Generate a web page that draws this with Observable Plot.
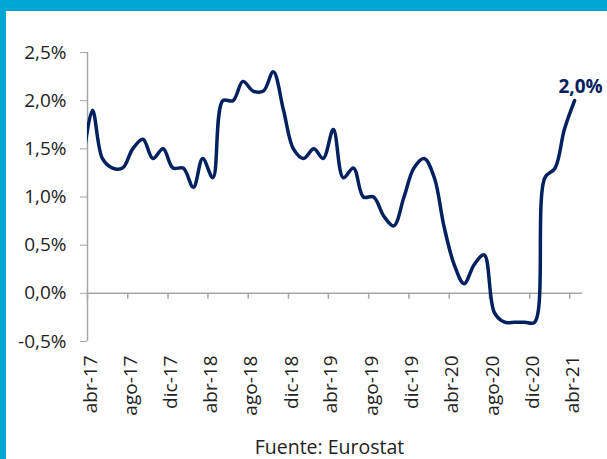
<!DOCTYPE html>
<html><head><meta charset="utf-8">
<script src="https://cdn.jsdelivr.net/npm/d3@7"></script>
<script src="https://cdn.jsdelivr.net/npm/@observablehq/plot@0.6"></script>
<style>
html,body{margin:0;padding:0;background:#fff;}
#wrap{position:relative;width:601px;height:448px;border-top:11px solid #00A7D5;border-left:6px solid #00A7D5;font-family:"Open Sans",sans-serif;}
#caption{font-size:19.5px;color:#222;text-align:center;padding-left:46px;line-height:22px;}
</style></head><body><div id="wrap"><div id="chart"></div><div id="caption"></div></div>
<script>
// Monthly values, Mar-2017 (first, partly hidden at the left edge) .. Apr-2021
const firstMonth = [2017, 3];
const values = [
  1.3,
  1.9, 1.4, 1.3, 1.3, 1.5, 1.6, 1.4, 1.5, 1.3,
  1.3, 1.1, 1.4, 1.2, 2.0, 2.0, 2.2, 2.1, 2.1, 2.3, 1.9, 1.5,
  1.4, 1.5, 1.4, 1.7, 1.2, 1.3, 1.0, 1.0, 0.8, 0.7, 1.0, 1.3,
  1.4, 1.2, 0.7, 0.3, 0.1, 0.3, 0.4, -0.2, -0.3, -0.3, -0.3, -0.3,
  1.2, 1.3, 1.7, 2.0
];
const xTickLabels = ["abr-17","ago-17","dic-17","abr-18","ago-18","dic-18","abr-19","ago-19","dic-19","abr-20","ago-20","dic-20","abr-21"];
const yTicks = [-0.5, 0, 0.5, 1, 1.5, 2, 2.5];
const captionText = "Fuente: Eurostat";

const monthIdx = {ene:0,feb:1,mar:2,abr:3,may:4,jun:5,jul:6,ago:7,sep:8,oct:9,nov:10,dic:11};
const parseLabel = s => { const [m, y] = s.split("-"); return new Date(Date.UTC(2000 + (+y), monthIdx[m], 1)); };
const tickDates = xTickLabels.map(parseLabel);
const labelByTime = new Map(tickDates.map((d, i) => [d.getTime(), xTickLabels[i]]));
const data = values.map((v, i) => ({date: new Date(Date.UTC(firstMonth[0], firstMonth[1] - 1 + i, 16)), value: v}));
const fmt = v => v.toFixed(1).replace(".", ",") + "%";
const gray = "#a6a6a6";
const navy = "#002060";
const last = data[data.length - 1];
const xEnd = new Date(Date.UTC(2021, 4, 10));

const chart = Plot.plot({
  width: 601, height: 425,
  marginLeft: 81, marginRight: 25, marginTop: 41, marginBottom: 95,
  style: {fontFamily: "Open Sans, sans-serif", fontSize: "19px", color: "#222", background: "transparent", overflow: "visible"},
  x: {type: "utc", domain: [tickDates[0], xEnd]},
  y: {domain: [-0.5, 2.5]},
  marks: [
    Plot.axisY({ticks: yTicks, tickFormat: fmt, tickSize: 7, tickPadding: 14, stroke: gray, label: null}),
    Plot.axisX({ticks: tickDates, tickFormat: d => labelByTime.get(d.getTime()), tickSize: 0, tickPadding: 14, tickRotate: -90, label: null, dx: 3}),
    Plot.ruleX([tickDates[0]], {stroke: gray, strokeWidth: 1.5}),
    Plot.ruleY([0], {stroke: gray, strokeWidth: 1.5}),
    Plot.ruleX(tickDates, {y1: 0, y2: 0, insetBottom: -6, stroke: gray, strokeWidth: 1.5}),
    Plot.line(data, {x: "date", y: "value", curve: "catmull-rom", stroke: navy, strokeWidth: 3.5, clip: true}),
    Plot.text([last], {x: "date", y: "value", text: d => fmt(d.value), fontWeight: "bold", fill: navy, fontSize: 19, lineAnchor: "bottom", dy: -8, dx: 6})
  ]
});
document.getElementById("chart").appendChild(chart);
document.getElementById("caption").textContent = captionText;
</script>
</body></html>
